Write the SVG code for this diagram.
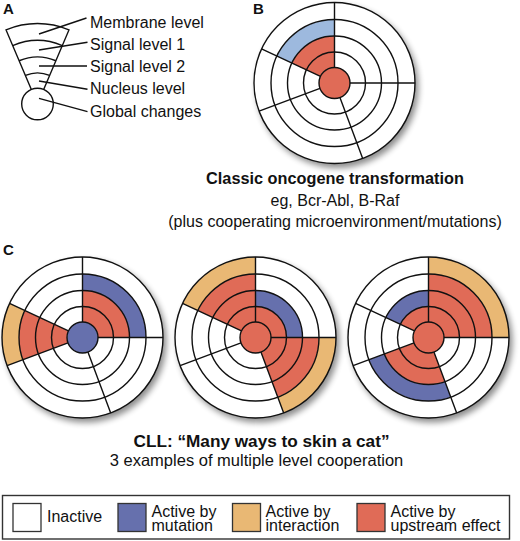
<svg xmlns="http://www.w3.org/2000/svg" xmlns:xlink="http://www.w3.org/1999/xlink" width="520" height="541" viewBox="0 0 520 541">
<style>
text{font-family:"Liberation Sans",Arial,sans-serif;fill:#111}
.lbl{font-size:15px;font-weight:bold}
.a{font-size:16px}
.ln{stroke:#111;stroke-width:1.4;fill:none}
.base{fill:#fff}
.red{fill:#e06b57}
.blu{fill:#6670ad}
.org{fill:#e9b874}
.lbu{fill:#9db9de}
.wht{fill:#fff}
.ctr{stroke:#111;stroke-width:1.4}
.sw{stroke:#333;stroke-width:1.3}
</style>
<defs>
<filter id="sh" x="-20%" y="-20%" width="150%" height="150%">
<feGaussianBlur stdDeviation="3"/>
</filter>
<g id="frame">
<circle r="31" class="ln"/>
<circle r="47" class="ln"/>
<circle r="63.5" class="ln"/>
<circle r="80.5" class="ln"/>
<path class="ln" d="M0,-15.5V-80.5M15.5,0H80.5M5.43,14.52L28.19,75.40M-14.52,5.43L-75.40,28.19M-14.05,-6.55L-72.96,-34.02"/>
</g>
<g id="base">
<circle cx="3" cy="4" r="81" fill="#000" opacity="0.45" filter="url(#sh)"/>
<circle r="80.5" class="base"/>
</g>
</defs>

<g id="panel-labels">
<text class="lbl" x="3" y="14">A</text>
<text class="lbl" x="253" y="14">B</text>
<text class="lbl" x="3" y="255">C</text>
</g>

<g id="panel-a">
<g id="fan" transform="translate(37.5,104)">
<path class="ln" d="M-6.06,-14.27L-31.45,-74.10A80.5 80.5 0 0 1 31.45,-74.10L6.06,-14.27"/>
<path class="ln" d="M-24.81,-58.45A63.5 63.5 0 0 1 24.81,-58.45M-18.36,-43.26A47 47 0 0 1 18.36,-43.26M-12.11,-28.54A31 31 0 0 1 12.11,-28.54"/>
<circle r="15.8" class="ln" fill="#fff"/>
</g>
<g id="legend-a-text" class="a">
<text x="90" y="27.5">Membrane level</text>
<text x="90" y="49.5">Signal level 1</text>
<text x="90" y="71.5">Signal level 2</text>
<text x="90" y="94">Nucleus level</text>
<text x="90" y="116.5">Global changes</text>
</g>
</g>

<g id="connectors">
<path class="ln" d="M39,34L86.5,18M39,50L87.5,42.3M39,66L87,66M39,81L87.5,89.3M39,98.3L87.5,111.7"/>
</g>

<g id="disc-b" transform="translate(334.5,83)">
<use xlink:href="#base"/>
<path class="red" d="M-42.60,-19.86A47 47 0 0 1 0,-47L0,-15.5A15.5 15.5 0 0 0 -14.05,-6.55Z"/>
<path class="lbu" d="M-57.55,-26.84A63.5 63.5 0 0 1 0,-63.5L0,-47A47 47 0 0 0 -42.60,-19.86Z"/>
<use xlink:href="#frame"/>
<circle r="15.5" class="ctr red"/>
</g>

<g id="text-b" text-anchor="middle">
<text x="335" y="184" style="font-size:16.3px;font-weight:bold">Classic oncogene transformation</text>
<text x="335" y="205.5" style="font-size:16px">eg, Bcr-Abl, B-Raf</text>
<text x="335" y="226.5" style="font-size:16px">(plus cooperating microenvironment/mutations)</text>
</g>

<g id="disc-c1" transform="translate(82.5,337.5)">
<use xlink:href="#base"/>
<path class="red" d="M0,-47A47 47 0 0 1 47,0L15.5,0A15.5 15.5 0 0 0 0,-15.5Z"/>
<path class="blu" d="M0,-63.5A63.5 63.5 0 0 1 63.5,0L47,0A47 47 0 0 0 0,-47Z"/>
<path class="red" d="M-59.48,22.24A63.5 63.5 0 0 1 -57.55,-26.84L-14.05,-6.55A15.5 15.5 0 0 0 -14.52,5.43Z"/>
<path class="org" d="M-75.40,28.19A80.5 80.5 0 0 1 -72.96,-34.02L-57.55,-26.84A63.5 63.5 0 0 0 -59.48,22.24Z"/>
<use xlink:href="#frame"/>
<circle r="15.5" class="ctr blu"/>
</g>

<g id="disc-c2" transform="translate(255.5,337.5)">
<use xlink:href="#base"/>
<path class="red" d="M-57.55,-26.84A63.5 63.5 0 0 1 0,-63.5L0,-15.5A15.5 15.5 0 0 0 -14.05,-6.55Z"/>
<path class="org" d="M-72.96,-34.02A80.5 80.5 0 0 1 0,-80.5L0,-63.5A63.5 63.5 0 0 0 -57.55,-26.84Z"/>
<path class="red" d="M0,-31A31 31 0 0 1 31,0L15.5,0A15.5 15.5 0 0 0 0,-15.5Z"/>
<path class="blu" d="M0,-47A47 47 0 0 1 47,0L31,0A31 31 0 0 0 0,-31Z"/>
<path class="red" d="M63.5,0A63.5 63.5 0 0 1 22.24,59.48L5.43,14.52A15.5 15.5 0 0 0 15.5,0Z"/>
<path class="org" d="M80.5,0A80.5 80.5 0 0 1 28.19,75.40L22.24,59.48A63.5 63.5 0 0 0 63.5,0Z"/>
<use xlink:href="#frame"/>
<circle r="15.5" class="ctr red"/>
</g>

<g id="disc-c3" transform="translate(428.5,337.5)">
<use xlink:href="#base"/>
<path class="red" d="M0,-63.5A63.5 63.5 0 0 1 63.5,0L15.5,0A15.5 15.5 0 0 0 0,-15.5Z"/>
<path class="org" d="M0,-80.5A80.5 80.5 0 0 1 80.5,0L63.5,0A63.5 63.5 0 0 0 0,-63.5Z"/>
<path class="red" d="M-28.10,-13.10A31 31 0 0 1 0,-31L0,-15.5A15.5 15.5 0 0 0 -14.05,-6.55Z"/>
<path class="blu" d="M-42.60,-19.86A47 47 0 0 1 0,-47L0,-31A31 31 0 0 0 -28.10,-13.10Z"/>
<path class="red" d="M16.46,44.02A47 47 0 0 1 -44.02,16.46L-14.52,5.43A15.5 15.5 0 0 0 5.43,14.52Z"/>
<path class="blu" d="M22.24,59.48A63.5 63.5 0 0 1 -59.48,22.24L-44.02,16.46A47 47 0 0 0 16.46,44.02Z"/>
<use xlink:href="#frame"/>
<circle r="15.5" class="ctr red"/>
</g>

<g id="text-c" text-anchor="middle">
<text x="261.5" y="446.5" style="font-size:17.2px;font-weight:bold">CLL: “Many ways to skin a cat”</text>
<text x="256.5" y="465.5" style="font-size:16.5px">3 examples of multiple level cooperation</text>
</g>

<g id="legend">
<rect x="2.5" y="495.5" width="507" height="43.5" fill="#fff" stroke="#333" stroke-width="1.4"/>
<g id="key-inactive">
<rect x="13" y="503.5" width="28" height="28" class="sw wht"/>
<text x="47" y="521.5" class="a">Inactive</text>
</g>
<g id="key-mutation">
<rect x="118" y="503.5" width="28" height="28" class="sw blu"/>
<text x="151.5" y="517" class="a">Active by</text>
<text x="151.5" y="530.5" class="a">mutation</text>
</g>
<g id="key-interaction">
<rect x="232.5" y="503.5" width="28" height="28" class="sw org"/>
<text x="265.5" y="517" class="a">Active by</text>
<text x="265.5" y="530.5" class="a">interaction</text>
</g>
<g id="key-upstream">
<rect x="357" y="503.5" width="28" height="28" class="sw red"/>
<text x="390.5" y="517" class="a">Active by</text>
<text x="390.5" y="530.5" class="a">upstream effect</text>
</g>
</g>
</svg>
